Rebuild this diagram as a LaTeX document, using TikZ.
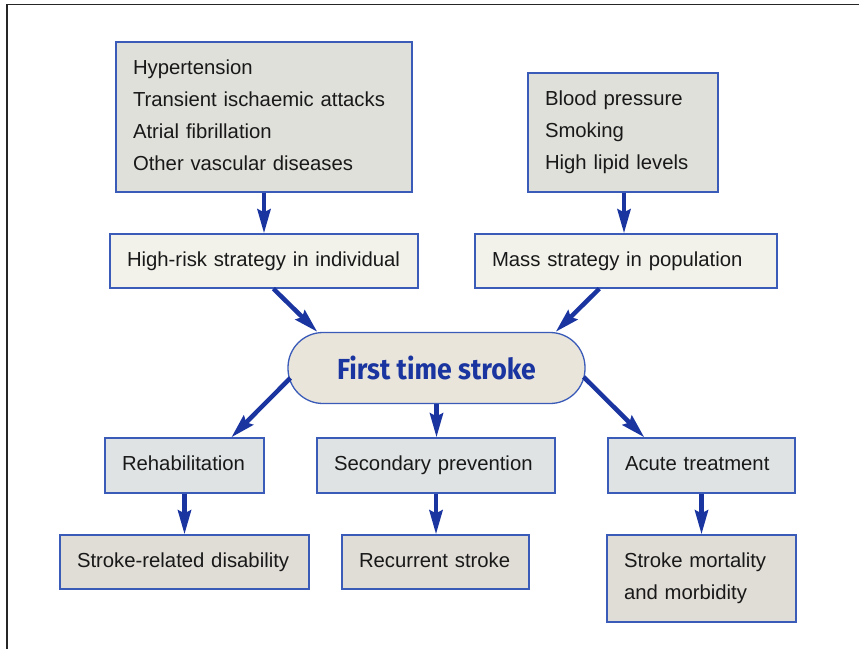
\documentclass[tikz,border=0pt]{standalone}
\usepackage{fontspec}
\setmainfont{Liberation Sans}
\newfontfamily\titlefont{Fira Sans}
\usetikzlibrary{arrows.meta,calc}
\definecolor{arrowblue}{HTML}{1A35A0}
\definecolor{edgeblue}{HTML}{3A5BB8}
\definecolor{fillA}{HTML}{DFE0DA}
\definecolor{fillB}{HTML}{F2F2EB}
\definecolor{fillC}{HTML}{DFE3E3}
\definecolor{fillD}{HTML}{E0DCD6}
\definecolor{fillE}{HTML}{E9E5DA}
\begin{document}
\begin{tikzpicture}[x=1pt,y=-1pt,
  boxstyle/.style args={#1/#2/#3}{draw=edgeblue, line width=1.3pt, fill=#3,
    rectangle, minimum width=#1pt, minimum height=#2pt,
    text width=#1pt-34pt, inner xsep=17pt, inner ysep=0pt, align=left,
    font=\fontsize{20.3}{32}\selectfont, text=black!90,
    execute at begin node={\rule{0pt}{15pt}},
    execute at end node={\rule[-5pt]{0pt}{5pt}}},
  arr/.style={draw=arrowblue, line width=4.5pt,
    -{Stealth[length=24pt,width=13pt,inset=3pt]}}
]
\useasboundingbox (0,0) rectangle (859,649);
% frame
\draw[line width=1.5pt, black!85] (7,649) -- (7,4.5) -- (859,4.5);

\node[boxstyle=296/150/fillA] (tl) at (264,117) {Hypertension\\Transient ischaemic attacks\\Atrial fibrillation\\Other vascular diseases};
\node[boxstyle=190/119/fillA] (tr) at (623,132.5) {Blood pressure\\Smoking\\High lipid levels};
\node[boxstyle=308/54/fillB] (hr) at (264,261) {High-risk strategy in individual};
\node[boxstyle=302/54/fillB] (ms) at (626,261) {Mass strategy in population};

\node[draw=edgeblue, line width=1.3pt, fill=fillE, rectangle, rounded corners=35pt,
  minimum width=297pt, minimum height=71pt, inner sep=0pt,
  text=arrowblue, font=\titlefont\bfseries\fontsize{29}{30}\selectfont] (st) at (436.5,368)
  {\scalebox{0.92}[1]{First time stroke}};

\node[boxstyle=159/55/fillC] (rh) at (184.5,465.5) {Rehabilitation};
\node[boxstyle=238/55/fillC] (sp) at (436,465.5) {Secondary prevention};
\node[boxstyle=187/55/fillC] (at) at (701.5,465.5) {Acute treatment};

\node[boxstyle=249/54/fillD] (sd) at (184.5,562) {Stroke-related disability};
\node[boxstyle=187/54/fillD] (rs) at (435.5,562) {Recurrent stroke};
\node[boxstyle=189/87/fillD] (sm) at (701.5,578.5) {Stroke mortality\\and morbidity};

% arrows
\draw[arr] (tl.south) -- (tl.south |- hr.north);
\draw[arr] ($(tr.south)+(1,0)$) -- ($(tr.south |- ms.north)+(1,0)$);
\draw[arr] ($(hr.south west)+(164,0)$) -- ($(st.north west)+(30,0)$);
\draw[arr] ($(ms.south west)+(125,0)$) -- ($(st.north east)+(-30,0)$);
\draw[arr] ($(st.west)+(3,10)$) -- ($(rh.north west)+(127,0)$);
\draw[arr] (st.south) -- (st.south |- sp.north);
\draw[arr] ($(st.east)+(-2,9)$) -- ($(at.north west)+(37,0)$);
\draw[arr] (rh.south) -- (rh.south |- sd.north);
\draw[arr] (sp.south) -- (sp.south |- rs.north);
\draw[arr] (at.south) -- (at.south |- sm.north);
\end{tikzpicture}
\end{document}
